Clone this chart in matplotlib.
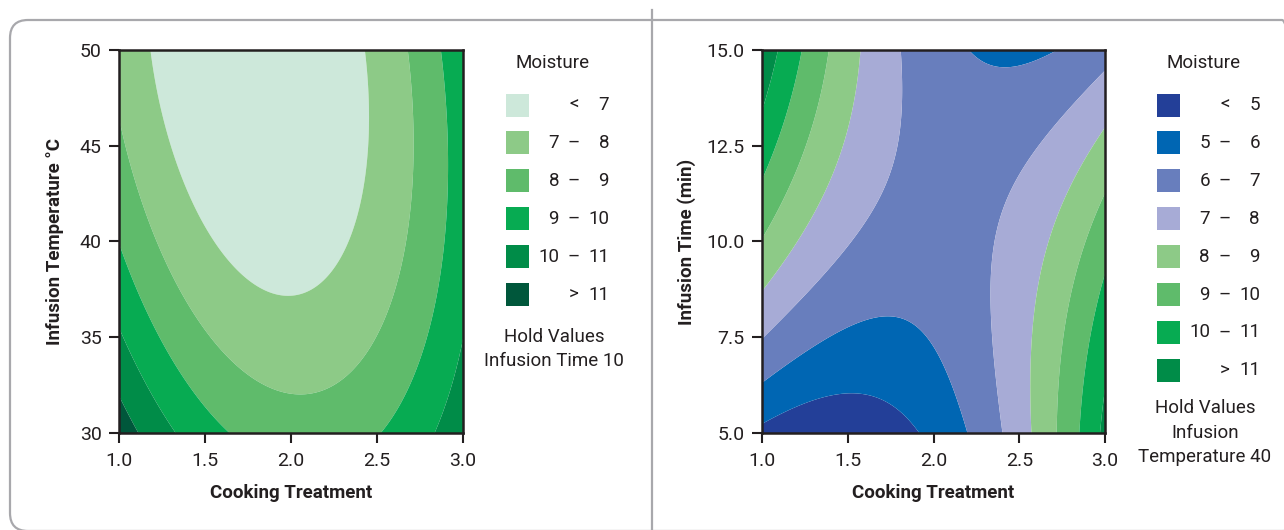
import matplotlib

matplotlib.use("Agg")
import matplotlib.pyplot as plt
import numpy as np
from matplotlib.patches import FancyBboxPatch, Rectangle
from matplotlib.transforms import IdentityTransform

plt.rcParams["font.family"] = ["Roboto", "DejaVu Sans"]

# fitted response surface for moisture, coded units:
# [b0, b_cook, b_other, b_cook^2, b_other^2, b_cook*other]
TEMP_MODEL = [6.60, 0.30, -1.22, 2.68, 0.68, 0.74]   # infusion time held at 10
TIME_MODEL = [6.53, 0.34, 0.58, 2.76, -0.70, -2.90]  # infusion temperature held at 40

COOK_RANGE = (1.0, 3.0)
TEMP_RANGE = (30.0, 50.0)
TIME_RANGE = (5.0, 15.0)

COOK_TICKS = [1.0, 1.5, 2.0, 2.5, 3.0]
TEMP_TICKS = [30, 35, 40, 45, 50]
TIME_TICKS = [5.0, 7.5, 10.0, 12.5, 15.0]

TEMP_LEVELS = [7, 8, 9, 10, 11]
TIME_LEVELS = [5, 6, 7, 8, 9, 10, 11]

TEMP_COLORS = ["#cde8da", "#8dca87", "#5fbb6b", "#07ab52", "#008c48", "#00573b"]
TIME_COLORS = ["#233f98", "#0066b3", "#687ebd", "#a7abd6",
               "#8dca87", "#5fbb6b", "#07ab52", "#008c48"]

TEMP_HOLD = ["Hold Values", "Infusion Time 10"]
TIME_HOLD = ["Hold Values", "Infusion", "Temperature 40"]

TEXT = "#231f20"
FRAME = "#a8a8ac"
W, H = 1284, 530
FS = 13.5


def surface(model, xr, yr, n=400):
    x = np.linspace(*xr, n)
    y = np.linspace(*yr, n)
    X, Y = np.meshgrid(x, y)
    u = (X - np.mean(xr)) / ((xr[1] - xr[0]) / 2)
    v = (Y - np.mean(yr)) / ((yr[1] - yr[0]) / 2)
    b0, b1, b2, b11, b22, b12 = model
    Z = b0 + b1 * u + b2 * v + b11 * u ** 2 + b22 * v ** 2 + b12 * u * v
    return X, Y, Z


def px_axes(fig, x0, y0, x1, y1):
    return fig.add_axes([x0 / W, 1 - y1 / H, (x1 - x0) / W, (y1 - y0) / H])


def fig_text(fig, x, y, s, **kw):
    fig.text(x / W, 1 - y / H, s, color=TEXT, fontsize=FS, va="center", **kw)


def draw_panel(fig, box, model, yr, yticks, yfmt, ylabel, ylabelpad,
               levels, colors, legend_x, hold_lines, hold_y):
    ax = px_axes(fig, *box)
    X, Y, Z = surface(model, COOK_RANGE, yr)
    bounds = [-100] + levels + [100]
    ax.contourf(X, Y, Z, levels=bounds, colors=colors, antialiased=True)
    ax.set_xlim(*COOK_RANGE)
    ax.set_ylim(*yr)
    ax.set_xticks(COOK_TICKS)
    ax.set_xticklabels([f"{t:.1f}" for t in COOK_TICKS])
    ax.set_yticks(yticks)
    ax.set_yticklabels([yfmt.format(t) for t in yticks])
    ax.tick_params(direction="out", length=7, width=1.5, color=TEXT, labelcolor=TEXT, labelsize=14)
    ax.tick_params(axis="x", pad=6.5)
    ax.tick_params(axis="y", pad=5.5)
    for sp in ax.spines.values():
        sp.set_linewidth(1.8)
        sp.set_color(TEXT)
    ax.set_xlabel("Cooking Treatment", fontsize=13.5, fontweight="bold", color=TEXT, labelpad=10)
    ax.set_ylabel(ylabel, fontsize=13.5, fontweight="bold", color=TEXT, labelpad=ylabelpad)

    # legend: swatches with lower / sign / upper columns
    sw_x = legend_x
    fig_text(fig, sw_x + 47, 63, "Moisture", ha="center")
    labels = [("", "<", str(levels[0]))]
    labels += [(str(a), "\u2013", str(b)) for a, b in zip(levels[:-1], levels[1:])]
    labels += [("", ">", str(levels[-1]))]
    for i, (c, (lo, sym, hi)) in enumerate(zip(colors, labels)):
        yc = 105 + i * 37.9
        fig.patches.append(Rectangle((sw_x / W, 1 - (yc + 11.5) / H), 23 / W, 23 / H,
                                     transform=fig.transFigure, facecolor=c, edgecolor="none"))
        if lo:
            fig_text(fig, sw_x + 53, yc, lo, ha="right")
        fig_text(fig, sw_x + 68, yc, sym, ha="center")
        fig_text(fig, sw_x + 103, yc, hi, ha="right")
    for j, line in enumerate(hold_lines):
        fig_text(fig, sw_x + 48, hold_y + j * 24.5, line, ha="center")


fig = plt.figure(figsize=(W / 100, H / 100), dpi=100)

# rounded outer frame and divider between the two panels
frame = FancyBboxPatch((10, -1), 1290, 511, boxstyle="round,pad=0,rounding_size=18",
                       transform=IdentityTransform(), facecolor="none", edgecolor=FRAME, linewidth=1.6)
fig.patches.append(frame)
fig.add_artist(plt.Line2D([652 / W, 652 / W], [0, 1 - 10 / H], transform=fig.transFigure,
                          color=FRAME, linewidth=1.6))

draw_panel(fig, (119, 50, 463, 433), TEMP_MODEL, TEMP_RANGE, TEMP_TICKS, "{:d}",
           "Infusion Temperature \u00b0C", 11, TEMP_LEVELS, TEMP_COLORS, 506, TEMP_HOLD, 337)
draw_panel(fig, (762, 50, 1105, 433), TIME_MODEL, TIME_RANGE, TIME_TICKS, "{:.1f}",
           "Infusion Time (min)", 7.5, TIME_LEVELS, TIME_COLORS, 1157, TIME_HOLD, 408)

fig.savefig("out.png", dpi=100, facecolor="white")
